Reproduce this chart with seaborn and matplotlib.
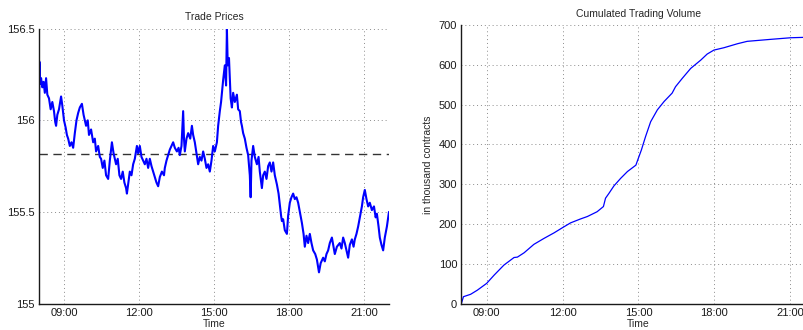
import matplotlib
matplotlib.use("Agg")
import matplotlib.pyplot as plt
import matplotlib.dates as mdates
import seaborn as sns
import pandas as pd

# ---------------- data ----------------
price_times = ["08:00","08:01","08:03","08:05","08:08","08:11","08:14","08:17","08:20","08:24",
    "08:28","08:32","08:36","08:39","08:41","08:44","08:48","08:53","08:56","09:00",
    "09:04","09:07","09:10","09:14","09:18","09:22","09:26","09:30","09:34","09:38",
    "09:43","09:47","09:50","09:53","09:57","10:00","10:05","10:10","10:14","10:17",
    "10:22","10:26","10:29","10:33","10:37","10:41","10:46","10:50","10:55","10:59",
    "11:05","11:09","11:13","11:17","11:21","11:25","11:29","11:31","11:35","11:38",
    "11:42","11:46","11:50","11:55","11:58","12:02","12:06","12:10","12:14","12:18",
    "12:22","12:26","12:30","12:34","12:38","12:42","12:46","12:50","12:55","13:00",
    "13:02","13:06","13:10","13:14","13:18","13:22","13:26","13:31","13:35","13:38",
    "13:42","13:46","13:48","13:50","13:54","13:58","14:03","14:07","14:10","14:14",
    "14:18","14:22","14:26","14:30","14:34","14:38","14:42","14:46","14:50","14:54",
    "14:58","15:02","15:07","15:10","15:14","15:17","15:19","15:22","15:26","15:29",
    "15:31","15:33","15:36","15:40","15:43","15:46","15:50","15:55","15:58","16:02",
    "16:05","16:07","16:10","16:14","16:18","16:22","16:26","16:28","16:30","16:34",
    "16:38","16:43","16:47","16:50","16:55","16:58","17:02","17:06","17:10","17:14",
    "17:18","17:22","17:26","17:31","17:35","17:38","17:41","17:43","17:46","17:50",
    "17:55","17:58","18:02","18:06","18:10","18:14","18:18","18:22","18:26","18:31",
    "18:35","18:38","18:42","18:46","18:50","18:54","18:58","19:03","19:07","19:10",
    "19:12","19:16","19:22","19:26","19:30","19:34","19:38","19:43","19:47","19:50",
    "19:55","20:02","20:06","20:10","20:14","20:18","20:22","20:26","20:31","20:35",
    "20:38","20:42","20:46","20:50","20:55","20:58","21:02","21:06","21:10","21:14",
    "21:19","21:24","21:28","21:31","21:35","21:38","21:42","21:46","21:50","21:55",
    "22:00"]
price_values = [155.95,156.32,156.20,156.23,156.18,156.21,156.15,156.23,156.14,156.12,
    156.06,156.10,156.05,155.99,155.97,156.03,156.06,156.13,156.08,156.00,
    155.96,155.92,155.90,155.86,155.88,155.85,155.93,156.00,156.04,156.07,
    156.09,156.03,156.00,155.97,156.00,155.92,155.95,155.88,155.90,155.83,
    155.86,155.80,155.79,155.74,155.78,155.70,155.68,155.78,155.88,155.82,
    155.76,155.79,155.70,155.68,155.72,155.66,155.63,155.60,155.67,155.72,
    155.70,155.76,155.79,155.86,155.82,155.86,155.80,155.78,155.76,155.79,
    155.74,155.79,155.75,155.72,155.69,155.66,155.64,155.69,155.72,155.70,
    155.74,155.78,155.81,155.84,155.86,155.88,155.85,155.83,155.85,155.81,
    155.86,156.05,155.90,155.83,155.90,155.93,155.90,155.97,155.92,155.88,
    155.82,155.76,155.80,155.78,155.83,155.79,155.74,155.76,155.72,155.78,
    155.86,155.83,155.88,155.97,156.05,156.10,156.15,156.22,156.30,156.19,
    156.50,156.30,156.34,156.12,156.07,156.15,156.10,156.14,156.06,156.05,
    155.99,155.97,155.93,155.90,155.85,155.81,155.70,155.58,155.78,155.86,
    155.80,155.76,155.80,155.72,155.63,155.70,155.72,155.68,155.75,155.77,
    155.72,155.77,155.70,155.65,155.60,155.54,155.48,155.45,155.46,155.40,
    155.38,155.48,155.55,155.58,155.60,155.57,155.58,155.55,155.50,155.44,
    155.38,155.31,155.37,155.33,155.38,155.33,155.29,155.27,155.24,155.20,
    155.17,155.22,155.25,155.23,155.27,155.29,155.33,155.36,155.31,155.27,
    155.31,155.33,155.30,155.36,155.33,155.29,155.25,155.32,155.35,155.31,
    155.35,155.38,155.42,155.47,155.53,155.58,155.62,155.57,155.53,155.55,
    155.51,155.53,155.47,155.49,155.42,155.36,155.32,155.29,155.36,155.42,
    155.50]
price_reference = 155.815

volume_times = ["08:00","08:05","08:22","08:38","09:00","09:18","09:41","10:05","10:13","10:29",
    "10:52","11:16","11:40","12:00","12:19","12:43","12:59","13:22","13:37","13:42",
    "13:50","14:02","14:18","14:34","14:54","14:57","15:07","15:17","15:29","15:45",
    "16:01","16:20","16:28","16:44","17:04","17:28","17:43","17:59","18:23","18:55",
    "19:18","20:14","21:01","21:33","22:00"]
volume_values = [0,17.6,23.6,34,51,72,97,116,117,128,
    149,164,178,191,203,213,219,231,244,265,
    277,296,315,332,348,357,386,420,457,487,
    508,529,545,566,591,612,627,637,643,653,
    659,664,668,669,670]

x_tick_labels = ["09:00","12:00","15:00","18:00","21:00"]
price_ticks = [155, 155.5, 156, 156.5]
price_tick_labels = ["155", "155.5", "156", "156.5"]
volume_ticks = [0, 100, 200, 300, 400, 500, 600, 700]

titles = ["Trade Prices", "Cumulated Trading Volume"]
xlabel = "Time"
vol_ylabel = "in thousand contracts"

# ---------------- build frames ----------------
day = "2000-01-01 "
price_df = pd.DataFrame({"Time": pd.to_datetime([day + t for t in price_times]),
                         "Price": price_values})
vol_df = pd.DataFrame({"Time": pd.to_datetime([day + t for t in volume_times]),
                       "Volume": volume_values})
xticks = pd.to_datetime([day + t for t in x_tick_labels])
xmin = pd.to_datetime(day + "08:00")
xmax = pd.to_datetime(day + "22:00")

# ---------------- plot ----------------
sns.set_style("white")
plt.rcParams["font.family"] = ["Liberation Sans", "DejaVu Sans"]

fig = plt.figure(figsize=(8.04, 3.30), dpi=100)
ax1 = fig.add_axes([0.0485, 0.0803, 0.4353, 0.8327])
ax2 = fig.add_axes([0.5738, 0.0797, 0.4405, 0.8445])

blue = (0, 0, 1)
sns.lineplot(data=price_df, x="Time", y="Price", ax=ax1, color=blue, linewidth=1.5,
             estimator=None, sort=False)
ax1.axhline(price_reference, color="0.2", linestyle=(0, (6, 4)), linewidth=1.0, zorder=1)
sns.lineplot(data=vol_df, x="Time", y="Volume", ax=ax2, color=blue, linewidth=0.9,
             estimator=None, sort=False)

fmt = mdates.DateFormatter("%H:%M")
for ax, title in zip((ax1, ax2), titles):
    ax.set_xlim(xmin, xmax)
    ax.set_xticks(xticks)
    ax.xaxis.set_major_formatter(fmt)
    ax.grid(True, linestyle=(0, (1, 3)), color="0.55", linewidth=0.7)
    ax.set_axisbelow(True)
    for s in ("top", "right"):
        ax.spines[s].set_visible(False)
    for s in ("left", "bottom"):
        ax.spines[s].set_color("0.1")
        ax.spines[s].set_linewidth(1.0)
    ax.tick_params(direction="in", length=3, width=0.8, labelsize=8, colors="0.1",
                   pad=3)
    ax.set_title(title, fontsize=7.5, color="0.15", pad=6)
    ax.set_xlabel(xlabel, fontsize=7.5, color="0.15", labelpad=1)

ax1.set_ylim(155, 156.5)
ax1.set_yticks(price_ticks)
ax1.set_yticklabels(price_tick_labels)
ax1.set_ylabel("")

ax2.set_ylim(0, 700)
ax2.set_yticks(volume_ticks)
ax2.set_ylabel(vol_ylabel, fontsize=7.5, color="0.15", labelpad=4)

fig.savefig("out.png", dpi=100)
